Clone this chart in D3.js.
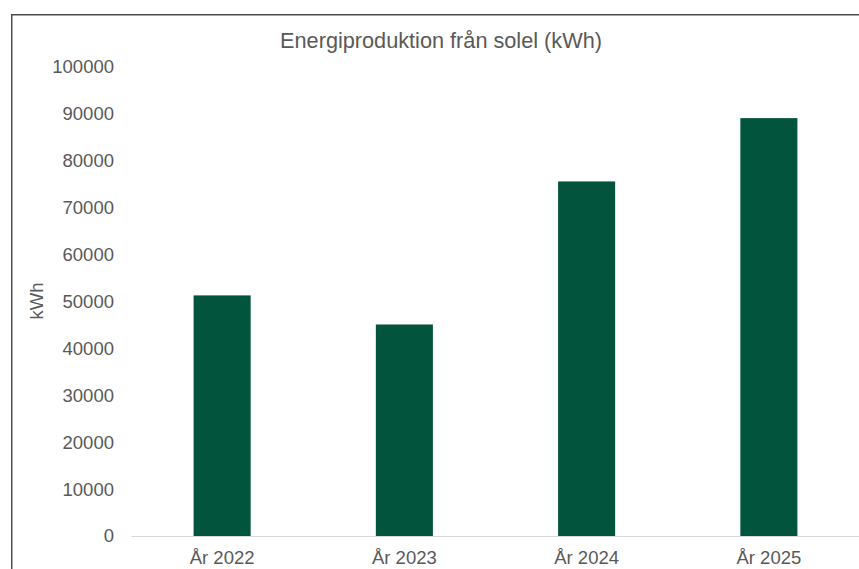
<!DOCTYPE html>
<html>
<head>
<meta charset="utf-8">
<script src="https://cdn.jsdelivr.net/npm/d3@7"></script>
<style>
  html, body { margin: 0; padding: 0; background: #fff; }
  svg { display: block; font-family: "Liberation Sans", Arial, sans-serif; }
</style>
</head>
<body>
<div id="chart"></div>
<script>
const TITLE = "Energiproduktion från solel (kWh)";
const Y_LABEL = "kWh";
const categories = ["År 2022", "År 2023", "År 2024", "År 2025"];
const values = [51300, 45100, 75600, 89100];
const yTicks = [0, 10000, 20000, 30000, 40000, 50000, 60000, 70000, 80000, 90000, 100000];

const width = 859, height = 569;
const margin = { top: 67, right: 0, bottom: 33, left: 131 }; // plot area 131..859, 67..536
const TEXT = "#595959";
const BAR = "#02553c";

const svg = d3.select("#chart").append("svg")
  .attr("width", width)
  .attr("height", height)
  .attr("viewBox", [0, 0, width, height]);

// chart frame (right/bottom edges fall outside the crop)
svg.append("rect")
  .attr("x", 11.75).attr("y", 14.75)
  .attr("width", 1000).attr("height", 1000)
  .attr("fill", "none")
  .attr("stroke", "#4d4d4d")
  .attr("stroke-width", 1.5);

const x = d3.scaleBand()
  .domain(categories)
  .range([margin.left, width + 1])
  .paddingInner(0.687)
  .paddingOuter(0.3435);

const y = d3.scaleLinear()
  .domain([0, 100000])
  .range([height - margin.bottom, margin.top]);

// title
svg.append("text")
  .attr("x", 441)
  .attr("y", 48)
  .attr("text-anchor", "middle")
  .attr("fill", TEXT)
  .attr("font-size", "21.7px")
  .text(TITLE);

// y axis (labels only)
const yAxis = svg.append("g")
  .attr("transform", `translate(${margin.left},0)`)
  .call(d3.axisLeft(y).tickValues(yTicks).tickSize(0).tickPadding(17).tickFormat(d3.format("d")));
yAxis.select(".domain").remove();
yAxis.selectAll("text").attr("fill", TEXT).attr("font-size", "18.5px").attr("font-family", null);

// y axis title
svg.append("text")
  .attr("transform", `translate(43,301) rotate(-90)`)
  .attr("text-anchor", "middle")
  .attr("fill", TEXT)
  .attr("font-size", "18.5px")
  .text(Y_LABEL);

// bars
svg.append("g")
  .selectAll("rect")
  .data(values)
  .join("rect")
  .attr("x", (d, i) => x(categories[i]))
  .attr("width", x.bandwidth())
  .attr("y", d => y(d))
  .attr("height", d => y(0) - y(d))
  .attr("fill", BAR);

// x axis
const xAxis = svg.append("g")
  .attr("transform", `translate(0,${y(0)})`)
  .call(d3.axisBottom(x).tickSize(0).tickPadding(15).tickSizeOuter(0));
xAxis.select(".domain").attr("stroke", "#d9d9d9").attr("stroke-width", 1.2);
xAxis.selectAll("text").attr("fill", TEXT).attr("font-size", "18.5px").attr("font-family", null);
</script>
</body>
</html>
